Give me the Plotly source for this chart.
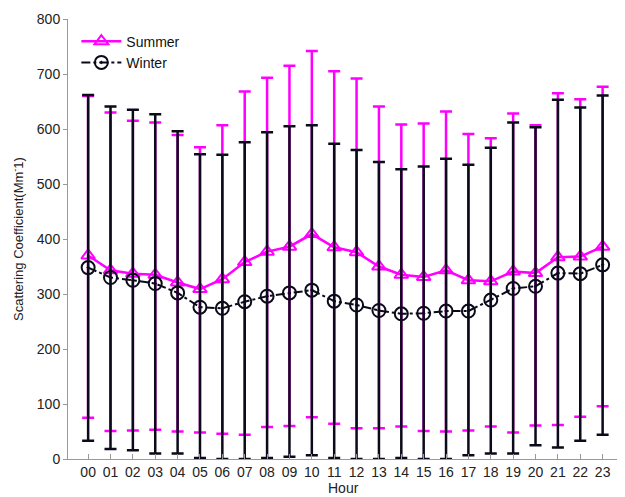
import plotly.graph_objects as go

hours = ["00","01","02","03","04","05","06","07","08","09","10","11",
         "12","13","14","15","16","17","18","19","20","21","22","23"]

summer_mean = [370, 343, 337, 335, 321, 309, 327, 358, 377, 386, 409, 385,
               376, 350, 335, 331, 343, 325, 323, 341, 338, 367, 368, 386]
summer_upper = [660, 630, 615, 612, 589, 567, 607, 668, 693, 715, 742, 705,
                692, 641, 608, 610, 632, 591, 583, 628, 607, 665, 654, 677]
summer_lower = [75, 51, 52, 53, 50, 48, 46, 44, 58, 60, 76, 64,
                56, 56, 59, 51, 50, 52, 59, 48, 61, 62, 77, 96]

winter_mean = [348, 330, 325, 319, 302, 276, 274, 286, 296, 302, 307, 287,
               280, 270, 264, 265, 269, 269, 289, 310, 314, 338, 337, 353]
winter_upper = [662, 641, 635, 627, 596, 554, 553, 576, 594, 605, 607, 573,
                562, 540, 527, 532, 546, 535, 566, 612, 603, 653, 639, 661]
winter_lower = [33, 18, 16, 10, 10, 2, 0, 0, 2, 4, 7, 2,
                0, 0, 2, 0, 0, 7, 10, 10, 25, 21, 33, 44]

x_title = "Hour"
y_title = "Scattering Coefficient(Mm<sup>-</sup>1)"

x = list(range(len(hours)))

def plus(u, m):
    return [a - b for a, b in zip(u, m)]

def minus(m, l):
    return [a - b for a, b in zip(m, l)]

fig = go.Figure()
fig.add_trace(go.Scatter(
    x=x, y=summer_mean, name="Summer", mode="lines+markers",
    line=dict(color="#FF00FF", width=2.5),
    marker=dict(symbol="triangle-up-open", size=12, color="#FF00FF",
                line=dict(width=2, color="#FF00FF")),
    error_y=dict(type="data", symmetric=False,
                 array=plus(summer_upper, summer_mean),
                 arrayminus=minus(summer_mean, summer_lower),
                 color="#FF00FF", thickness=2.5, width=6),
))
fig.add_trace(go.Scatter(
    x=x, y=winter_mean, name="Winter", mode="lines+markers",
    line=dict(color="#0a0a1a", width=2, dash="dashdot"),
    marker=dict(symbol="circle-open-dot", size=13, color="#0a0a1a",
                line=dict(width=2, color="#0a0a1a")),
    error_y=dict(type="data", symmetric=False,
                 array=plus(winter_upper, winter_mean),
                 arrayminus=minus(winter_mean, winter_lower),
                 color="#0a0a1a", thickness=2.5, width=6),
))

fig.update_layout(
    width=617, height=489,
    margin=dict(l=60, r=0, t=11, b=38, autoexpand=False),
    paper_bgcolor="white", plot_bgcolor="white",
    font=dict(family="Liberation Sans, Arial, sans-serif", size=14, color="#222222"),
    showlegend=True,
    legend=dict(x=0.015, y=0.985, xanchor="left", yanchor="top",
                bgcolor="rgba(0,0,0,0)", font=dict(size=14, color="#111111"),
                itemwidth=40, tracegroupgap=0),
    annotations=[
        dict(text=x_title, xref="paper", yref="paper", x=0.495, y=0,
             xanchor="center", yanchor="middle", yshift=-29, showarrow=False,
             font=dict(size=14, color="#222222")),
        dict(text=y_title, xref="paper", yref="paper", x=0, y=0.5,
             xanchor="center", yanchor="middle", xshift=-50, textangle=-90,
             showarrow=False, font=dict(size=13, color="#222222")),
    ],
)
fig.update_xaxes(
    range=[-0.9, 24.0], tickmode="array", tickvals=x, ticktext=hours,
    showgrid=False, zeroline=False, showline=True, linecolor="#999999", linewidth=1,
    ticks="inside", ticklen=5, tickcolor="#999999", automargin=False,
    tickfont=dict(size=14),
)
fig.update_yaxes(
    range=[0, 800], dtick=100,
    showgrid=False, zeroline=False, showline=True, linecolor="#999999", linewidth=1,
    ticks="outside", ticklen=4, tickcolor="#999999", automargin=False,
    tickfont=dict(size=14),
)

fig.write_html("out.html")
